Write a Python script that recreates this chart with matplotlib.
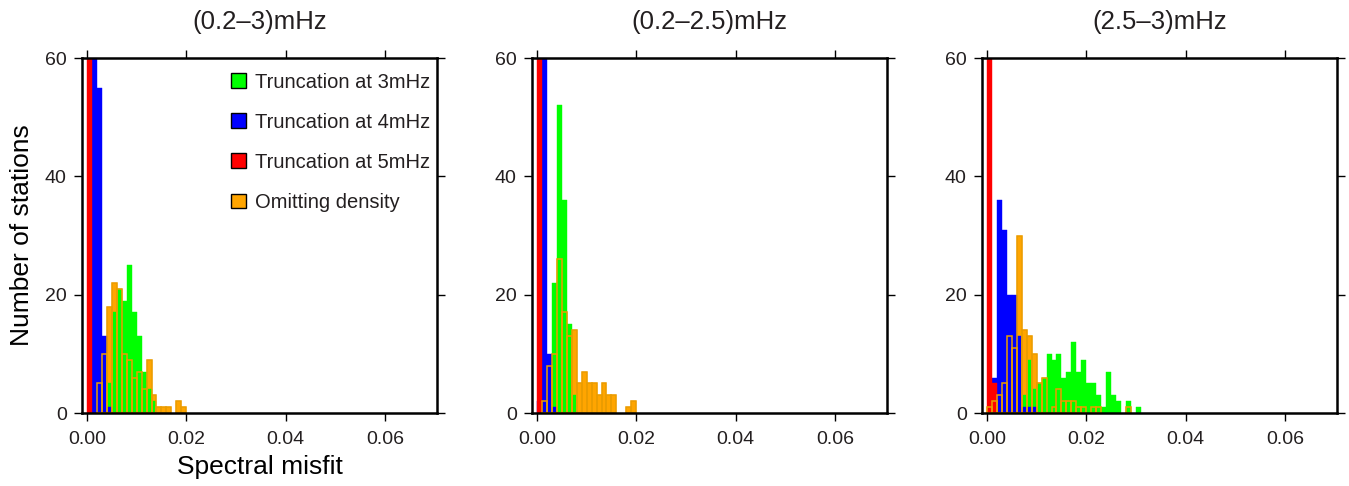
import numpy as np
import matplotlib.pyplot as plt
from matplotlib.patches import Patch

plt.rcParams['font.family'] = ['Liberation Sans', 'DejaVu Sans']
plt.rcParams['text.color'] = '#231f20'
plt.rcParams['xtick.labelcolor'] = '#231f20'
plt.rcParams['ytick.labelcolor'] = '#231f20'

# Histogram counts per 0.001-wide bin, starting at misfit 0
bin_width = 0.001
titles = ['(0.2\u20133)mHz', '(0.2\u20132.5)mHz', '(2.5\u20133)mHz']

red1 = [130]
blue1 = [0, 61, 55, 13, 1]
green1 = [0, 0, 0, 0, 5, 17, 21, 19, 25, 17, 13, 7, 4, 2]
orange1 = [0, 0, 5, 10, 18, 22, 21, 10, 9, 6, 7, 4, 9, 3, 1, 1, 1, 0, 2, 1]

red2 = [130]
blue2 = [2, 117, 10, 1]
green2 = [0, 0, 1, 22, 52, 36, 15, 3]
orange2 = [0, 2, 8, 10, 26, 17, 13, 14, 5, 7, 5, 5, 3, 5, 3, 3, 0, 0, 1, 2]

red3 = [125, 5]
blue3 = [0, 6, 36, 31, 20, 20, 13, 1, 1, 1]
green3 = [0, 0, 0, 1, 0, 2, 2, 3, 9, 4, 5, 6, 10, 9, 10, 6, 7, 12, 7, 9,
          5, 5, 3, 1, 7, 3, 2, 0, 2, 0, 1]
orange3 = [1, 2, 3, 5, 13, 11, 30, 14, 13, 10, 5, 6, 0, 1, 4, 2, 2, 2, 1, 1,
           0, 1, 1, 0, 0, 0, 0, 0, 1]

panels = [
    (red1, blue1, green1, orange1),
    (red2, blue2, green2, orange2),
    (red3, blue3, green3, orange3),
]

GREEN, BLUE, RED, ORANGE = '#00ff00', '#0000ff', '#ff0000', '#ffa500'


def draw_bars(ax, counts, face, edge, lw, fill=True):
    counts = np.asarray(counts)
    left = np.arange(len(counts)) * bin_width
    keep = counts > 0
    ax.bar(left[keep], counts[keep], width=bin_width, align='edge',
           color=face if fill else 'none', edgecolor=edge, linewidth=lw)


fig = plt.figure(figsize=(13.49, 4.86), dpi=100)
lefts = [82 / 1349, 532 / 1349, 982 / 1349]
for i, (red, blue, green, orange) in enumerate(panels):
    ax = fig.add_axes([lefts[i], 1 - 413 / 486, 355 / 1349, 355 / 486])
    # orange fill at bottom, then green, blue, red, and orange outline on top
    draw_bars(ax, orange, ORANGE, ORANGE, 0.3)
    draw_bars(ax, green, GREEN, GREEN, 0.3)
    draw_bars(ax, blue, BLUE, BLUE, 0.3)
    draw_bars(ax, red, RED, RED, 0.3)
    draw_bars(ax, orange, None, '#eb9c00', 1.1, fill=False)

    ax.set_xlim(-0.001, 0.0705)
    ax.set_ylim(0, 60)
    ax.set_xticks([0, 0.02, 0.04, 0.06])
    ax.set_xticklabels(['0.00', '0.02', '0.04', '0.06'])
    ax.set_yticks([0, 20, 40, 60])
    ax.tick_params(direction='out', length=6, width=1, labelsize=14,
                   top=True, right=True)
    ax.tick_params(axis='x', pad=7)
    ax.tick_params(axis='y', pad=5)
    for s in ax.spines.values():
        s.set_linewidth(1.8)
    ax.set_title(titles[i], fontsize=18.5, pad=21)

    if i == 0:
        ax.set_xlabel('Spectral misfit', fontsize=19, labelpad=5)
        ax.set_ylabel('Number of stations', fontsize=19, labelpad=8)
        handles = [Patch(facecolor=c, edgecolor='black', linewidth=1)
                   for c in (GREEN, BLUE, RED, ORANGE)]
        labels = ['Truncation at 3mHz', 'Truncation at 4mHz',
                  'Truncation at 5mHz', 'Omitting density']
        ax.legend(handles, labels, loc='upper right', frameon=False,
                  fontsize=14.5, handlelength=0.75, handleheight=0.75,
                  handletextpad=0.45, labelspacing=1.05,
                  bbox_to_anchor=(1.032, 1.01))

fig.savefig('out.png', dpi=100)
